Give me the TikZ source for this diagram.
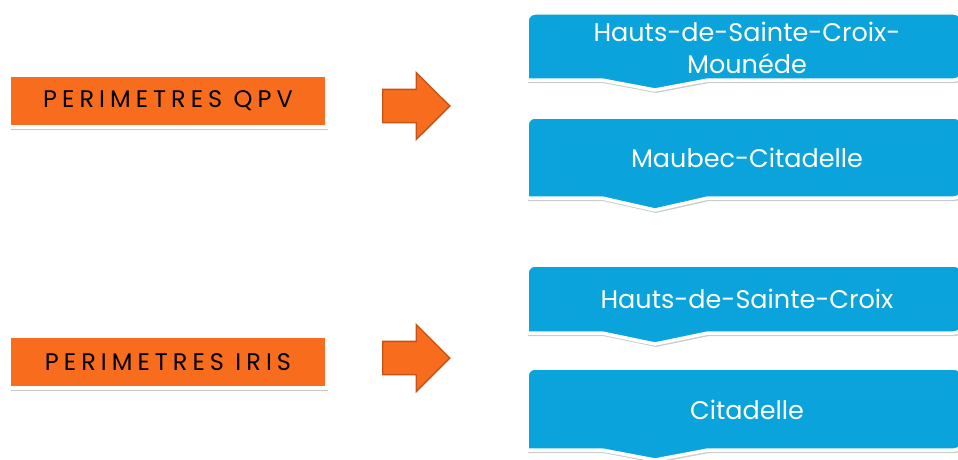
\documentclass[tikz,border=0pt]{standalone}
\usepackage{fontspec}
\setmainfont{Poppins}
\usetikzlibrary{shapes.arrows,shadows,positioning}
\definecolor{qpvorange}{RGB}{248,108,30}
\definecolor{arrowedge}{RGB}{196,82,22}
\definecolor{zoneblue}{RGB}{10,163,219}

% blue banner with a small pointer under its middle
\newcommand{\zonebanner}[3]{%
  \path[banner] (527,#2) [rounded corners=8] -- (527,#1) -- (962,#1) -- (962,#2)
    [sharp corners] -- (708,#2) -- (655,#3) -- (602,#2) -- cycle;}

\begin{document}
\begin{tikzpicture}[x=1pt,y=-1pt,
    label/.style={draw=white,line width=3.5pt,fill=qpvorange,
      minimum width=317pt,minimum height=52pt,inner sep=0pt,
      font=\fontsize{24}{28}\selectfont\addfontfeature{LetterSpace=21},
      drop shadow={opacity=0.45,shadow xshift=1pt,shadow yshift=-2.5pt}},
    pointer/.style={single arrow,draw=arrowedge,line width=1.3pt,fill=qpvorange,
      minimum height=67pt,inner xsep=0pt,inner ysep=16pt,
      single arrow head extend=17pt},
    banner/.style={draw=white,line width=3.5pt,fill=zoneblue,
      drop shadow={opacity=0.4,shadow xshift=1pt,shadow yshift=-3pt}},
    zone/.style={text=white,align=center,
      font=\fontsize{25.5}{32}\selectfont}]
  \useasboundingbox (0,0) rectangle (958,460);
  \clip (0,0) rectangle (958,460);

  \node[label] (qpv)  at (168,101) {PERIMETRES QPV};
  \node[label] (iris) at (168,362) {PERIMETRES IRIS};

  \node[pointer] (toqpv)  at (408,106) {};
  \node[pointer] (toiris) at (408,358) {};

  \zonebanner{13}{80}{90}
  \node[zone] (hsc1) at (747,48) {Hauts-de-Sainte-Croix-\\Mounéde};
  \zonebanner{117}{198}{210}
  \node[zone] (maubec) at (747,158) {Maubec-Citadelle};
  \zonebanner{265}{333}{344}
  \node[zone] (hsc2) at (747,299) {Hauts-de-Sainte-Croix};
  \zonebanner{368}{450}{460}
  \node[zone] (cita) at (747,410) {Citadelle};
\end{tikzpicture}
\end{document}
